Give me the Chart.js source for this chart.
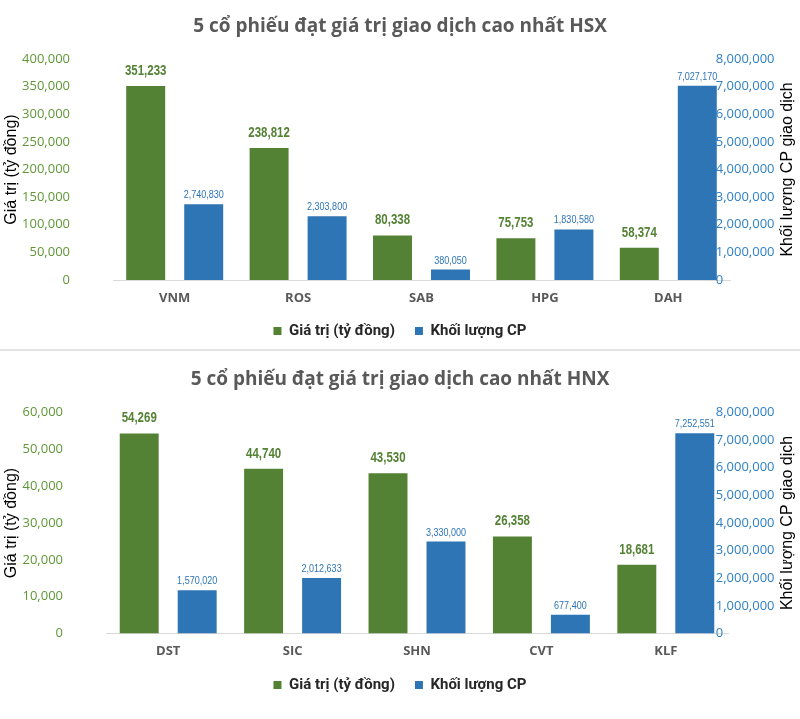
<!DOCTYPE html>
<html>
<head>
<meta charset="utf-8">
<script src="https://cdn.jsdelivr.net/npm/chart.js@4.4.1/dist/chart.umd.min.js"></script>
<style>
  html, body { margin: 0; padding: 0; background: #ffffff; }
  #wrap { position: relative; width: 800px; height: 719px; overflow: hidden; }
  #c1 { position: absolute; left: 0; top: 0; }
  #c2 { position: absolute; left: 0; top: 352px; }
  #sep { position: absolute; left: 0; top: 349px; width: 800px; height: 2px; background: #e2e2e2; }
</style>
</head>
<body>
<div id="wrap">
  <canvas id="c1" width="800" height="350"></canvas>
  <div id="sep"></div>
  <canvas id="c2" width="800" height="367"></canvas>
</div>
<script>
// ---- Data (HSX) ----
const hsxTitle = '5 cổ phiếu đạt giá trị giao dịch cao nhất HSX';
const hsxCategories = ['VNM', 'ROS', 'SAB', 'HPG', 'DAH'];
const hsxValue = [351233, 238812, 80338, 75753, 58374];
const hsxVolume = [2740830, 2303800, 380050, 1830580, 7027170];
const hsxValueTicks = [0, 50000, 100000, 150000, 200000, 250000, 300000, 350000, 400000];
const hsxVolumeTicks = [0, 1000000, 2000000, 3000000, 4000000, 5000000, 6000000, 7000000, 8000000];

// ---- Data (HNX) ----
const hnxTitle = '5 cổ phiếu đạt giá trị giao dịch cao nhất HNX';
const hnxCategories = ['DST', 'SIC', 'SHN', 'CVT', 'KLF'];
const hnxValue = [54269, 44740, 43530, 26358, 18681];
const hnxVolume = [1570020, 2012633, 3330000, 677400, 7252551];
const hnxValueTicks = [0, 10000, 20000, 30000, 40000, 50000, 60000];
const hnxVolumeTicks = [0, 1000000, 2000000, 3000000, 4000000, 5000000, 6000000, 7000000, 8000000];

// ---- Labels ----
const seriesValueName = 'Giá trị (tỷ đồng)';
const seriesVolumeName = 'Khối lượng CP';
const leftAxisTitle = 'Giá trị (tỷ đồng)';
const rightAxisTitle = 'Khối lượng CP giao dịch';

const GREEN = '#548235';
const GREEN_TICK = '#5f9736';
const BLUE = '#2e75b6';
const BLUE_TICK = '#2f80c6';

const fmt = v => Number(v).toLocaleString('en-US');

function narrowText(ctx, text, x, y, squeeze) {
  ctx.save();
  ctx.translate(x, y);
  ctx.scale(squeeze, 1);
  ctx.fillText(text, 0, 0);
  ctx.restore();
}

const dataLabelPlugin = {
  id: 'dataLabels',
  afterDatasetsDraw(chart) {
    const ctx = chart.ctx;
    chart.data.datasets.forEach((ds, i) => {
      const meta = chart.getDatasetMeta(i);
      meta.data.forEach((bar, j) => {
        ctx.save();
        ctx.textAlign = 'center';
        ctx.textBaseline = 'middle';
        if (i === 0) {
          ctx.font = 'bold 14px "Liberation Sans", Arial, sans-serif';
          ctx.fillStyle = GREEN;
          narrowText(ctx, fmt(ds.data[j]), bar.x, bar.y - 15, 0.82);
        } else {
          ctx.font = '11px "Liberation Sans", Arial, sans-serif';
          ctx.fillStyle = BLUE;
          narrowText(ctx, fmt(ds.data[j]), bar.x, bar.y - 9, 0.82);
        }
        ctx.restore();
      });
    });
  }
};

const rightTitlePlugin = {
  id: 'rightTitle',
  afterDraw(chart, args, opts) {
    const ctx = chart.ctx;
    const area = chart.chartArea;
    ctx.save();
    ctx.translate(opts.x, (area.top + area.bottom) / 2);
    ctx.rotate(-Math.PI / 2);
    ctx.font = '16px "Liberation Sans", Arial, sans-serif';
    ctx.fillStyle = '#000000';
    ctx.textAlign = 'center';
    ctx.textBaseline = 'middle';
    ctx.fillText(opts.text, 0, 0);
    ctx.restore();
  }
};

function makeChart(canvasId, cfg) {
  return new Chart(document.getElementById(canvasId), {
    type: 'bar',
    data: {
      labels: cfg.categories,
      datasets: [
        {
          label: seriesValueName,
          data: cfg.values,
          backgroundColor: GREEN,
          yAxisID: 'y',
          categoryPercentage: cfg.catPct,
          barPercentage: 0.672
        },
        {
          label: seriesVolumeName,
          data: cfg.volumes,
          backgroundColor: BLUE,
          yAxisID: 'y2',
          categoryPercentage: cfg.catPct,
          barPercentage: 0.672
        }
      ]
    },
    options: {
      responsive: false,
      animation: false,
      devicePixelRatio: 1,
      layout: { padding: { left: 0, right: 0, top: 0, bottom: cfg.padBottom } },
      plugins: {
        title: {
          display: true,
          text: cfg.title,
          color: '#595959',
          font: { family: '"Open Sans", sans-serif', size: 19, weight: 'bold', lineHeight: 1.2 },
          padding: { top: cfg.titleTop, bottom: cfg.titleBottom }
        },
        legend: {
          display: true,
          position: 'bottom',
          labels: {
            boxWidth: 8,
            boxHeight: 8,
            padding: 20,
            color: '#262626',
            font: { family: 'Roboto, sans-serif', size: 15, weight: 'bold' }
          }
        },
        tooltip: { enabled: false },
        rightTitle: { x: 788, text: rightAxisTitle }
      },
      scales: {
        x: {
          grid: { display: false, drawTicks: false },
          border: { display: true, color: '#d9d9d9', width: 1 },
          ticks: {
            padding: 10,
            color: '#595959',
            font: { family: '"Open Sans", sans-serif', size: 13, weight: 'bold' }
          },
          afterFit(scale) { scale.height = cfg.xHeight; }
        },
        y: {
          position: 'left',
          min: cfg.valueTicks[0],
          max: cfg.valueTicks[cfg.valueTicks.length - 1],
          afterBuildTicks(scale) { scale.ticks = cfg.valueTicks.map(v => ({ value: v })); },
          grid: { display: false, drawTicks: false },
          border: { display: false },
          ticks: {
            padding: 43,
            color: GREEN_TICK,
            font: { family: '"Open Sans", sans-serif', size: 13 },
            callback: v => fmt(v)
          },
          title: {
            display: true,
            text: leftAxisTitle,
            color: '#000000',
            font: { family: '"Liberation Sans", Arial, sans-serif', size: 16, lineHeight: 1.2 },
            padding: { top: 2.4, bottom: 0 }
          },
          afterFit(scale) { scale.width = cfg.leftWidth; }
        },
        y2: {
          position: 'right',
          min: cfg.volumeTicks[0],
          max: cfg.volumeTicks[cfg.volumeTicks.length - 1],
          afterBuildTicks(scale) { scale.ticks = cfg.volumeTicks.map(v => ({ value: v })); },
          grid: { display: false, drawTicks: false },
          border: { display: false },
          ticks: {
            mirror: true,
            crossAlign: 'far',
            padding: cfg.rightPad,
            color: BLUE_TICK,
            font: { family: '"Open Sans", sans-serif', size: 13 },
            callback: v => fmt(v)
          },
          afterFit(scale) { scale.width = cfg.rightWidth; }
        }
      }
    },
    plugins: [dataLabelPlugin, rightTitlePlugin]
  });
}

makeChart('c1', {
  title: hsxTitle,
  categories: hsxCategories,
  values: hsxValue,
  volumes: hsxVolume,
  valueTicks: hsxValueTicks,
  volumeTicks: hsxVolumeTicks,
  catPct: 0.94,
  titleTop: 15.6,
  titleBottom: 20.6,
  xHeight: 23.5,
  padBottom: 1.5,
  leftWidth: 113,
  rightWidth: 70,
  rightPad: 44.5
});

makeChart('c2', {
  title: hnxTitle,
  categories: hnxCategories,
  values: hnxValue,
  volumes: hnxVolume,
  valueTicks: hnxValueTicks,
  volumeTicks: hnxVolumeTicks,
  catPct: 0.932,
  titleTop: 16.6,
  titleBottom: 21.1,
  xHeight: 24,
  padBottom: 16.5,
  leftWidth: 106,
  rightWidth: 72,
  rightPad: 46.5
});
</script>
</body>
</html>
